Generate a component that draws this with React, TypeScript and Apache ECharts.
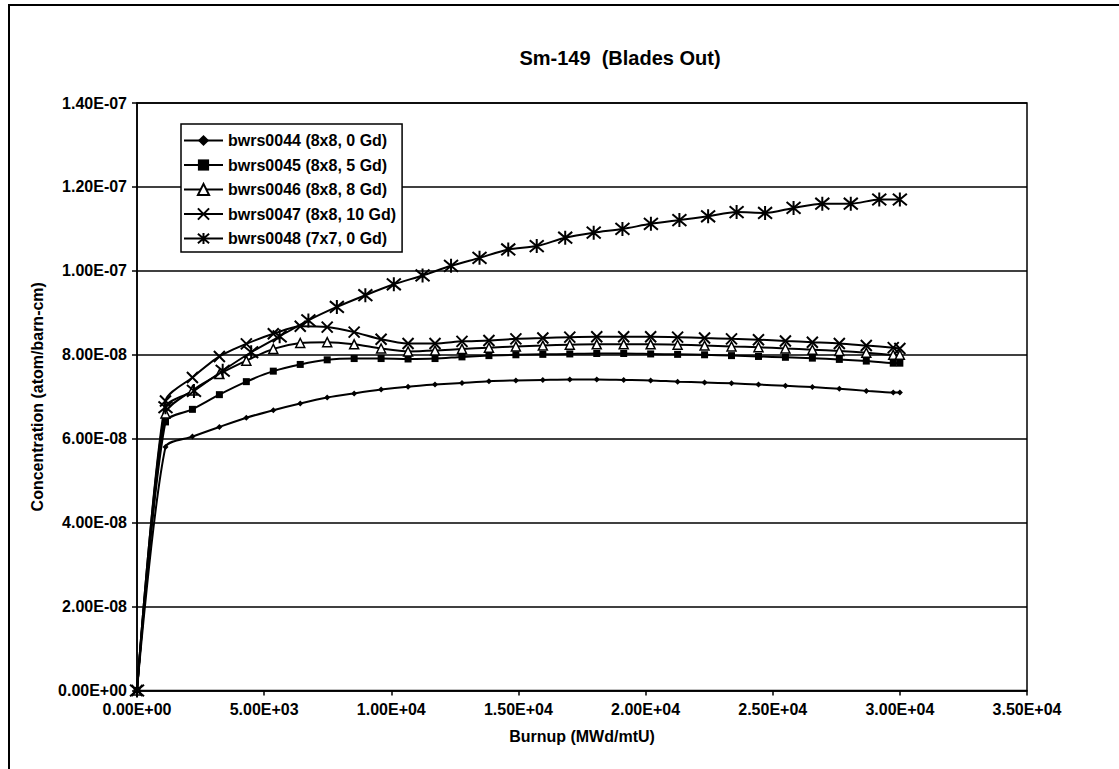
import React, { useEffect, useRef } from "react";
import * as echarts from "echarts";

// Burnup steps (MWd/mtU)
const burnup8x8 = [0, 1120, 2180, 3240, 4300, 5360, 6420, 7480, 8540, 9600, 10660, 11720, 12780, 13840, 14900, 15960, 17020, 18080, 19140, 20200, 21260, 22320, 23380, 24440, 25500, 26560, 27620, 28680, 29740, 30000];
const burnup7x7 = [0, 1120, 2240, 3370, 4490, 5610, 6740, 7860, 8980, 10100, 11230, 12350, 13470, 14600, 15720, 16840, 17960, 19090, 20210, 21330, 22460, 23580, 24700, 25820, 26950, 28070, 29190, 30000];

// Sm-149 concentration (atom/barn-cm)
const bwrs0044 = [0, 5.80e-8, 6.05e-8, 6.28e-8, 6.50e-8, 6.68e-8, 6.84e-8, 6.98e-8, 7.08e-8, 7.17e-8, 7.24e-8, 7.29e-8, 7.33e-8, 7.37e-8, 7.39e-8, 7.40e-8, 7.41e-8, 7.41e-8, 7.40e-8, 7.39e-8, 7.36e-8, 7.34e-8, 7.32e-8, 7.29e-8, 7.26e-8, 7.23e-8, 7.19e-8, 7.14e-8, 7.10e-8, 7.10e-8];
const bwrs0045 = [0, 6.40e-8, 6.70e-8, 7.05e-8, 7.36e-8, 7.61e-8, 7.77e-8, 7.88e-8, 7.91e-8, 7.91e-8, 7.90e-8, 7.91e-8, 7.95e-8, 7.98e-8, 8.00e-8, 8.01e-8, 8.02e-8, 8.03e-8, 8.03e-8, 8.02e-8, 8.01e-8, 8.00e-8, 7.98e-8, 7.96e-8, 7.94e-8, 7.92e-8, 7.89e-8, 7.85e-8, 7.80e-8, 7.80e-8];
const bwrs0046 = [0, 6.60e-8, 7.15e-8, 7.54e-8, 7.86e-8, 8.14e-8, 8.28e-8, 8.30e-8, 8.25e-8, 8.15e-8, 8.08e-8, 8.10e-8, 8.14e-8, 8.17e-8, 8.20e-8, 8.22e-8, 8.24e-8, 8.25e-8, 8.25e-8, 8.25e-8, 8.24e-8, 8.22e-8, 8.20e-8, 8.18e-8, 8.15e-8, 8.12e-8, 8.09e-8, 8.05e-8, 8.00e-8, 8.00e-8];
const bwrs0047 = [0, 6.90e-8, 7.46e-8, 7.96e-8, 8.26e-8, 8.50e-8, 8.68e-8, 8.66e-8, 8.54e-8, 8.37e-8, 8.27e-8, 8.27e-8, 8.32e-8, 8.34e-8, 8.38e-8, 8.40e-8, 8.42e-8, 8.43e-8, 8.43e-8, 8.43e-8, 8.42e-8, 8.40e-8, 8.38e-8, 8.36e-8, 8.33e-8, 8.30e-8, 8.27e-8, 8.22e-8, 8.17e-8, 8.15e-8];
const bwrs0048 = [0, 6.75e-8, 7.14e-8, 7.62e-8, 8.06e-8, 8.44e-8, 8.82e-8, 9.14e-8, 9.42e-8, 9.68e-8, 9.89e-8, 10.12e-8, 10.31e-8, 10.51e-8, 10.59e-8, 10.79e-8, 10.91e-8, 11.00e-8, 11.12e-8, 11.21e-8, 11.30e-8, 11.40e-8, 11.38e-8, 11.50e-8, 11.60e-8, 11.60e-8, 11.70e-8, 11.70e-8];

const seriesNames = [
  "bwrs0044 (8x8, 0 Gd)",
  "bwrs0045 (8x8, 5 Gd)",
  "bwrs0046 (8x8, 8 Gd)",
  "bwrs0047 (8x8, 10 Gd)",
  "bwrs0048 (7x7, 0 Gd)",
];

const titleText = "Sm-149  (Blades Out)";
const xName = "Burnup (MWd/mtU)";
const yName = "Concentration (atom/barn-cm)";

function sci(v: number): string {
  if (v === 0) return "0.00E+00";
  let e = Math.floor(Math.log10(Math.abs(v)) + 1e-9);
  let m = v / Math.pow(10, e);
  if (Number(m.toFixed(2)) >= 10) {
    e += 1;
    m = m / 10;
  }
  return m.toFixed(2) + "E" + (e < 0 ? "-" : "+") + String(Math.abs(e)).padStart(2, "0");
}

const FONT = "'Liberation Sans', Arial, sans-serif";
const crossPath = "path://M0,0L10,10M10,0L0,10";
const starPath = "path://M0,0L10,10M10,0L0,10M5,-1L5,11";

export default function App() {
  const ref = useRef<HTMLDivElement>(null);
  useEffect(() => {
    if (!ref.current) return;
    const chart = echarts.init(ref.current, null, { renderer: "svg" });
    const pair = (xs: number[], ys: number[]) => ys.map((y, i) => [xs[i], y]);
    const base = {
      type: "line" as const,
      smooth: 0.25,
      lineStyle: { color: "#000", width: 2 },
      emphasis: { disabled: true },
      z: 3,
    };
    const textBase = { fontFamily: FONT, fontWeight: "bold", color: "#000" };
    const option: any = {
      animation: false,
      backgroundColor: "#fff",
      title: {
        text: titleText,
        left: 615,
        top: 43,
        textAlign: "center",
        textStyle: { ...textBase, fontSize: 20 },
      },
      legend: {
        orient: "vertical",
        left: 181,
        top: 124,
        padding: [8, 6, 5, 2],
        itemWidth: 39,
        itemHeight: 14,
        itemGap: 7.5,
        borderColor: "#000",
        borderWidth: 1.5,
        backgroundColor: "#fff",
        textStyle: { ...textBase, fontSize: 16, lineHeight: 17 },
        data: seriesNames,
      },
      grid: { left: 137, right: 92, top: 103, bottom: 78.5, show: true, borderColor: "#000", borderWidth: 1.5 },
      xAxis: {
        type: "value",
        min: 0,
        max: 35000,
        interval: 5000,
        name: xName,
        nameLocation: "middle",
        nameGap: 38,
        nameTextStyle: { ...textBase, fontSize: 16 },
        axisLine: { show: true, lineStyle: { color: "#000", width: 1.5 } },
        axisTick: { show: true, inside: false, length: 5, lineStyle: { color: "#000", width: 1.5 } },
        axisLabel: { formatter: (v: number) => sci(v), ...textBase, fontSize: 16, margin: 11 },
        splitLine: { show: false },
      },
      yAxis: {
        type: "value",
        min: 0,
        max: 1.4e-7,
        interval: 2e-8,
        name: yName,
        nameLocation: "middle",
        nameGap: 92,
        nameTextStyle: { ...textBase, fontSize: 16 },
        axisLine: { show: true, lineStyle: { color: "#000", width: 1.5 } },
        axisTick: { show: true, inside: false, length: 5, lineStyle: { color: "#000", width: 1.5 } },
        axisLabel: { formatter: (v: number) => sci(v), ...textBase, fontSize: 16, margin: 10 },
        splitLine: { show: true, lineStyle: { color: "#000", width: 1.5 } },
      },
      graphic: [
        { type: "line", shape: { x1: 8, y1: 5, x2: 1119, y2: 5 }, style: { stroke: "#000", lineWidth: 2 } },
        { type: "line", shape: { x1: 9, y1: 5, x2: 9, y2: 769 }, style: { stroke: "#000", lineWidth: 2 } },
      ],
      series: [
        {
          ...base,
          name: seriesNames[0],
          data: pair(burnup8x8, bwrs0044),
          symbol: "diamond",
          symbolSize: 6,
          itemStyle: { color: "#000" },
        },
        {
          ...base,
          name: seriesNames[1],
          data: pair(burnup8x8, bwrs0045),
          symbol: "rect",
          symbolSize: 7,
          itemStyle: { color: "#000" },
        },
        {
          ...base,
          name: seriesNames[2],
          data: pair(burnup8x8, bwrs0046),
          symbol: "triangle",
          symbolSize: 9,
          itemStyle: { color: "#fff", borderColor: "#000", borderWidth: 1.5 },
        },
        {
          ...base,
          name: seriesNames[3],
          data: pair(burnup8x8, bwrs0047),
          symbol: crossPath,
          symbolSize: 11,
          itemStyle: { color: "none", borderColor: "#000", borderWidth: 2 },
        },
        {
          ...base,
          name: seriesNames[4],
          data: pair(burnup7x7, bwrs0048),
          symbol: starPath,
          symbolSize: 14,
          itemStyle: { color: "none", borderColor: "#000", borderWidth: 2 },
        },
      ],
    };
    chart.setOption(option);
    return () => chart.dispose();
  }, []);
  return (
    <div
      ref={ref}
      style={{ position: "fixed", left: 0, top: 0, width: 1119, height: 769, background: "#fff" }}
    />
  );
}
